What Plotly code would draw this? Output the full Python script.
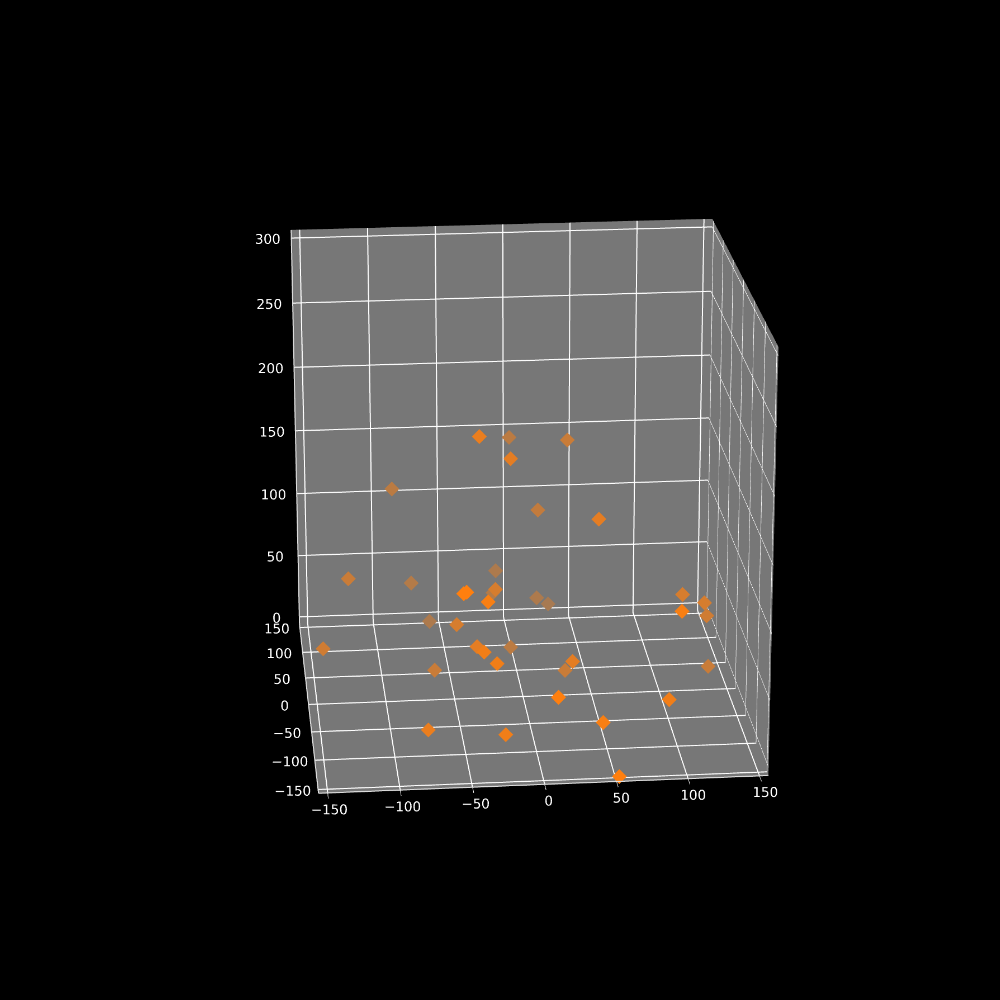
import plotly.graph_objects as go

# Points
xs = [-39, -4, -15, 34, -90, 15, 47, -125, -75, -10, -55, -53, -22, -14, -37, 21, 32, -60, -50,
      -145, -39, -38, -3, -29, -63, 29, 33, 10, -76, -23, 43, 92, 52, 113, 97, 129, 134, 139]
ys = [-91, 66, -65, 22, 66, 44, -65, 22, 91, 113, -150, -150, -22, 91, -134, 113, 135, 113, -22,
      0, -65, -112, 66, -112, 22, -65, 22, -150, -94, -112, -134, -112, -155, -22, -134, -22, 0, 22]
zs = [227, 171, 201, 183, 134, 122, 154, 82, 50, 49, 135, 136, 87, 40, 122, 26, 12, 10, 61,
      37, 61, 76, 6, 67, 8, 47, 4, 56, 11, 13, 29, 35, -3, 78, 110, 71, 52, 3]
shade = [0.85, 0.5, 0.8, 0.6, 0.5, 0.55, 0.8, 0.6, 0.45, 0.4, 1, 1, 0.7, 0.45, 0.95, 0.4, 0.35, 0.4, 0.7,
         0.65, 0.8, 0.9, 0.5, 0.9, 0.6, 0.8, 0.6, 1, 0.85, 0.9, 0.95, 0.9, 1, 0.7, 0.95, 0.7, 0.65, 0.6]

x_ticks = [-150, -100, -50, 0, 50, 100, 150]
z_ticks = [0, 50, 100, 150, 200, 250, 300]


def faded(a):
    # depth shading, orange mixed into the grey pane
    r, g, b = [round(a * c + (1 - a) * 119) for c in (255, 127, 14)]
    return f"rgb({r},{g},{b})"


colors = [faded(a) for a in shade]

axis_style = dict(
    backgroundcolor="#777777",
    showbackground=True,
    gridcolor="white",
    gridwidth=2,
    color="white",
    zeroline=False,
    showline=True,
    linecolor="#dddddd",
    linewidth=2,
    tickcolor="white",
    tickangle=0,
    title="",
    tickfont=dict(family="DejaVu Sans", size=12, color="white"),
)

fig = go.Figure(go.Scatter3d(
    x=xs, y=ys, z=zs, mode="markers",
    marker=dict(symbol="diamond", size=4.4, color=colors),
))

# big canvas so the box keeps the flat perspective of the reference
fig.update_layout(
    width=3220,
    height=3220,
    paper_bgcolor="black",
    margin=dict(l=0, r=0, t=0, b=0),
    showlegend=False,
    scene=dict(
        bgcolor="black",
        aspectmode="cube",
        xaxis=dict(range=[-156.25, 156.25], tickvals=x_ticks, ticks="outside", ticklen=14, **axis_style),
        yaxis=dict(range=[-156.25, 156.25], tickvals=x_ticks, ticks="", **axis_style),
        zaxis=dict(range=[-6.25, 306.25], tickvals=z_ticks, ticks="", **axis_style),
        camera=dict(eye=dict(x=-0.80, y=-8.32, z=3.04), center=dict(x=0, y=0, z=0)),
    ),
)

post = """
document.documentElement.style.background = 'black';
document.body.style.cssText = 'margin:0;background:black;overflow:hidden;width:1000px;height:1000px';
var d = document.querySelector('.plotly-graph-div');
d.style.position = 'absolute';
d.style.left = '-1087px';
d.style.top = '-1115px';
"""

fig.write_html("out.html", post_script=post)
